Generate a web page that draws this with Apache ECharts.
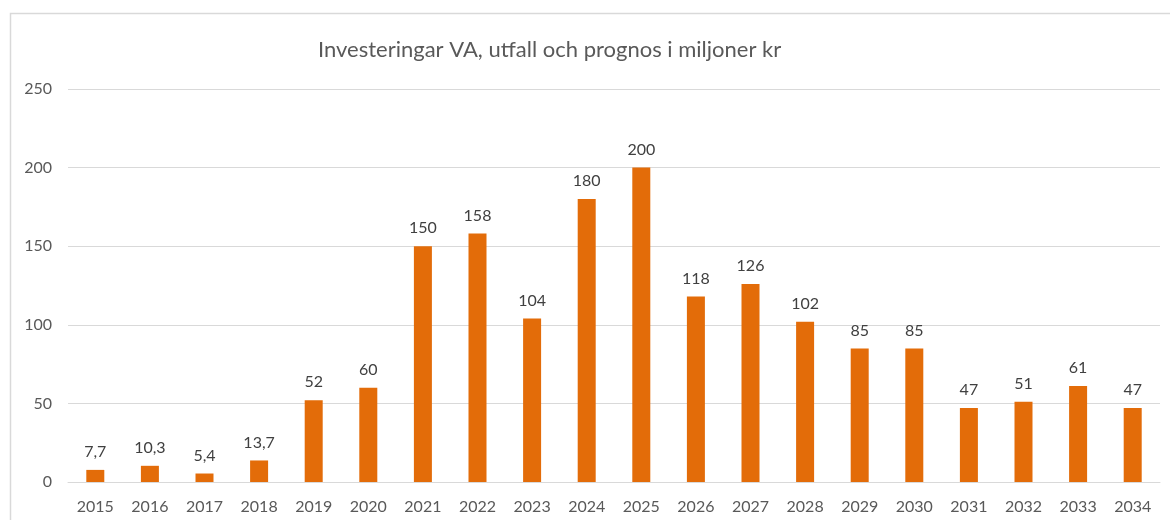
<!DOCTYPE html>
<html>
<head>
<meta charset="utf-8">
<script src="https://cdn.jsdelivr.net/npm/echarts@6/dist/echarts.min.js"></script>
<style>
  html, body { margin: 0; padding: 0; background: #fff; }
  #chart { width: 1170px; height: 520px; }
</style>
</head>
<body>
<div id="chart"></div>
<script>
// år och värden (miljoner kr)
var years = ['2015', '2016', '2017', '2018', '2019', '2020', '2021', '2022', '2023', '2024',
             '2025', '2026', '2027', '2028', '2029', '2030', '2031', '2032', '2033', '2034'];
var values = [7.7, 10.3, 5.4, 13.7, 52, 60, 150, 158, 104, 180,
              200, 118, 126, 102, 85, 85, 47, 51, 61, 47];
var yTicks = [0, 50, 100, 150, 200, 250];

var chart = echarts.init(document.getElementById('chart'));
chart.setOption({
  animation: false,
  textStyle: { fontFamily: 'Lato' },
  title: {
    text: 'Investeringar VA, utfall och prognos i miljoner kr',
    left: 313,
    top: 34,
    textStyle: { fontFamily: 'Lato', fontSize: 22, fontWeight: 'normal', color: '#595959' }
  },
  graphic: [{
    type: 'rect',
    shape: { x: 10.5, y: 13.5, width: 1300, height: 700 },
    style: { fill: 'none', stroke: '#d9d9d9', lineWidth: 1.5 },
    silent: true
  }],
  grid: { left: 68, right: 10, top: 89, bottom: 38 },
  xAxis: {
    type: 'category',
    data: years,
    axisLine: { lineStyle: { color: '#d9d9d9' } },
    axisTick: { show: false },
    axisLabel: { color: '#595959', fontSize: 16, margin: 17 }
  },
  yAxis: {
    type: 'value',
    min: yTicks[0],
    max: yTicks[yTicks.length - 1],
    interval: 50,
    axisLine: { show: false },
    axisTick: { show: false },
    splitLine: { lineStyle: { color: '#d9d9d9' } },
    axisLabel: { color: '#595959', fontSize: 16, margin: 16 }
  },
  series: [{
    type: 'bar',
    data: values,
    barWidth: 18,
    itemStyle: { color: '#e36c09' },
    label: {
      show: true,
      position: 'top',
      distance: 10,
      color: '#404040',
      fontSize: 16,
      formatter: function (p) { return String(p.value).replace('.', ','); }
    }
  }]
});
</script>
</body>
</html>
